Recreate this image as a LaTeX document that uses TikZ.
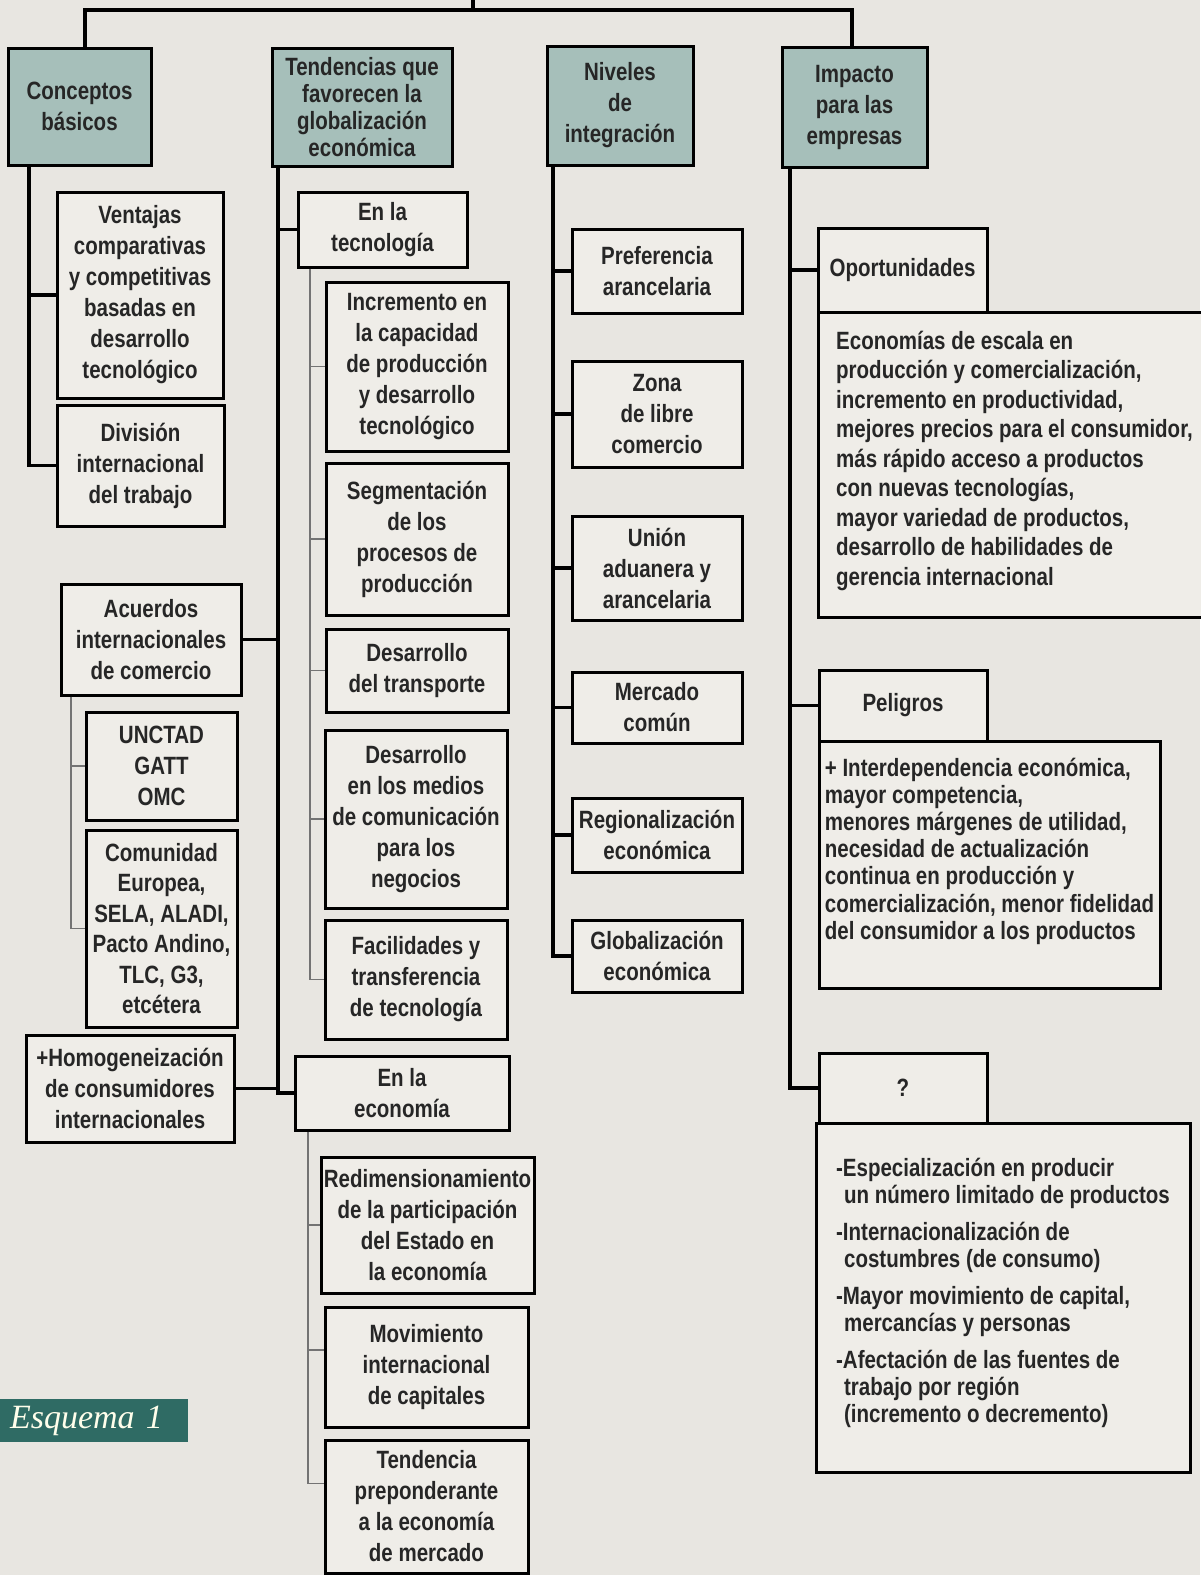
\documentclass[tikz,border=0pt]{standalone}
\usepackage{fontspec}
\setmainfont{Liberation Sans}[FakeStretch=0.82]
\newfontfamily\serifit{Liberation Serif}
\usetikzlibrary{calc}

\definecolor{fondo}{HTML}{E8E6E1}
\definecolor{fondcaja}{HTML}{EFEDE8}
\definecolor{cabecera}{HTML}{A6BFBA}
\definecolor{esquema}{HTML}{2F6B64}

\tikzset{
  caja/.style={draw=black, line width=3pt, fill=fondcaja, align=center,
    inner sep=0pt, text=black!85, font=\fontsize{25}{31}\selectfont\bfseries},
  titulo/.style={caja, fill=cabecera},
  rama/.style={line width=3.2pt, black},
  ramita/.style={line width=1.4pt, black!55},
}

\begin{document}
\begin{tikzpicture}[x=1pt,y=-1pt]

\useasboundingbox (0,0) rectangle (1200,1575);
\fill[fondo] (0,0) rectangle (1200,1575);

% Boites de titre
\node[titulo, minimum width=143pt, minimum height=117pt] (cb) at (79.5,106.5) {Conceptos\\básicos};
\node[titulo, minimum width=180pt, minimum height=118pt, font=\fontsize{25}{27}\selectfont\bfseries] (tf) at (362,107) {Tendencias que\\favorecen la\\globalización\\económica};
\node[titulo, minimum width=146pt, minimum height=119pt] (ni) at (620,105.5) {Niveles\\de\\integración};
\node[titulo, minimum width=145pt, minimum height=120pt] (ip) at (854.5,107) {Impacto\\para las\\empresas};

% Concepts de base
\node[caja, minimum width=166pt, minimum height=206pt] (vent) at (140,295) {Ventajas\\comparativas\\y competitivas\\basadas en\\desarrollo\\tecnológico};
\node[caja, minimum width=167pt, minimum height=121pt] (div) at (140.5,465.5) {División\\internacional\\del trabajo};
\node[caja, minimum width=180pt, minimum height=111pt] (acu) at (151,639.5) {Acuerdos\\internacionales\\de comercio};
\node[caja, minimum width=151pt, minimum height=108pt] (unc) at (161.5,766) {UNCTAD\\GATT\\OMC};
\node[caja, minimum width=151pt, minimum height=197pt, font=\fontsize{25}{30.5}\selectfont\bfseries] (com) at (161.5,928.5) {Comunidad\\Europea,\\SELA, ALADI,\\Pacto Andino,\\TLC, G3,\\etcétera};
\node[caja, minimum width=208pt, minimum height=107pt] (hom) at (130,1088.5) {+Homogeneización\\de consumidores\\internacionales};

% Tendances
\node[caja, minimum width=169pt, minimum height=75pt] (tec) at (382.5,229.5) {En la\\tecnología};
\node[caja, minimum width=182pt, minimum height=169pt] (inc) at (417,366.5) {Incremento en\\la capacidad\\de producción\\y desarrollo\\tecnológico};
\node[caja, minimum width=182pt, minimum height=152pt] (seg) at (417,539) {Segmentación\\de los\\procesos de\\producción};
\node[caja, minimum width=182pt, minimum height=83pt] (tra) at (417,670.5) {Desarrollo\\del transporte};
\node[caja, minimum width=182pt, minimum height=178pt] (med) at (416,819) {Desarrollo\\en los medios\\de comunicación\\para los\\negocios};
\node[caja, minimum width=182pt, minimum height=119pt] (fac) at (416,979.5) {Facilidades y\\transferencia\\de tecnología};
\node[caja, minimum width=214pt, minimum height=74pt] (eco) at (402,1093) {En la\\economía};
\node[caja, minimum width=213pt, minimum height=136pt] (red) at (427.5,1225) {Redimensionamiento\\de la participación\\del Estado en\\la economía};
\node[caja, minimum width=203pt, minimum height=120pt] (mov) at (426.5,1367) {Movimiento\\internacional\\de capitales};
\node[caja, minimum width=203pt, minimum height=133pt] (tpr) at (426.5,1506.5) {Tendencia\\preponderante\\a la economía\\de mercado};

% Niveaux
\node[caja, minimum width=170pt, minimum height=84pt] (pre) at (657,271) {Preferencia\\arancelaria};
\node[caja, minimum width=170pt, minimum height=106pt] (zon) at (657,414) {Zona\\de libre\\comercio};
\node[caja, minimum width=170pt, minimum height=104pt] (uni) at (657,568) {Unión\\aduanera y\\arancelaria};
\node[caja, minimum width=170pt, minimum height=71pt] (mer) at (657,707.5) {Mercado\\común};
\node[caja, minimum width=170pt, minimum height=74pt] (reg) at (657,835) {Regionalización\\económica};
\node[caja, minimum width=170pt, minimum height=72pt] (glo) at (657,956) {Globalización\\económica};

% Impact
\node[caja, minimum width=169pt, minimum height=84pt] (opo) at (902.5,270) {Oportunidades};
\node[caja, minimum width=393pt, minimum height=305pt, align=left, font=\fontsize{25}{29.5}\selectfont\bfseries] (eop) at (1014.5,464.5) {Economías de escala en\\producción y comercialización,\\incremento en productividad,\\mejores precios para el consumidor,\\más rápido acceso a productos\\con nuevas tecnologías,\\mayor variedad de productos,\\desarrollo de habilidades de\\gerencia internacional\rule[-13pt]{0pt}{0pt}};
\node[caja, minimum width=168pt, minimum height=71pt] (pel) at (903,705.5) {Peligros};
\node[caja, minimum width=341pt, minimum height=247pt, align=left, font=\fontsize{25}{27.2}\selectfont\bfseries] (int) at (989.5,864.5) {+ Interdependencia económica,\\mayor competencia,\\menores márgenes de utilidad,\\necesidad de actualización\\continua en producción y\\comercialización, menor fidelidad\\del consumidor a los productos\rule[-32pt]{0pt}{0pt}};
\node[caja, minimum width=168pt, minimum height=70pt] (que) at (903,1088) {?};
\node[caja, minimum width=374pt, minimum height=349pt, align=left, font=\fontsize{25}{27}\selectfont\bfseries] (esp) at (1003,1297.5) {-Especialización en producir\\\hspace*{8pt}un número limitado de productos\\[10pt]-Internacionalización de\\\hspace*{8pt}costumbres (de consumo)\\[10pt]-Mayor movimiento de capital,\\\hspace*{8pt}mercancías y personas\\[10pt]-Afectación de las fuentes de\\\hspace*{8pt}trabajo por región\\\hspace*{8pt}(incremento o decremento)\rule[-14pt]{0pt}{0pt}};

% Etiquette
\node[fill=esquema, inner sep=0pt, inner xsep=10pt, text width=168pt, minimum height=43pt, align=left,
  text=white!92!yellow, font=\serifit\itshape\fontsize{34}{34}\selectfont] (esq) at (94,1420.5) {Esquema 1};

% Ligne du haut
\coordinate (raiz) at (473,0);
\coordinate (hizq) at (85,10);
\coordinate (hder) at (852,10);
\draw[rama] (raiz) -- (raiz |- hizq);
\draw[rama] (cb.north -| hizq) -- (hizq) -- (hder) -- (ip.north -| hder);

% Tronc conceptos
\coordinate (tc) at (29,0);
\draw[rama] (cb.south -| tc) |- (div.west);
\draw[rama] (tc |- vent.west) -- (vent.west);

% Tronc tendencias
\coordinate (tt) at (278,0);
\draw[rama] (tf.south -| tt) |- (eco.west);
\draw[rama] (tt |- tec.west) -- (tec.west);
\draw[rama] (acu.east) -- (acu.east -| tt);
\draw[rama] (hom.east) -- (hom.east -| tt);

% Sous-branches (traits fins)
\coordinate (sa) at (71,0);
\draw[ramita] (acu.south -| sa) |- (com.west);
\draw[ramita] (sa |- unc.west) -- (unc.west);

\coordinate (st) at (310,0);
\draw[ramita] (tec.south -| st) |- (fac.west);
\draw[ramita] (st |- inc.west) -- (inc.west);
\draw[ramita] (st |- seg.west) -- (seg.west);
\draw[ramita] (st |- tra.west) -- (tra.west);
\draw[ramita] (st |- med.west) -- (med.west);

\coordinate (se) at (308,0);
\coordinate (bmov) at ($(mov.west)+(0,-17)$);
\coordinate (btpr) at ($(tpr.west)+(0,-23)$);
\draw[ramita] (eco.south -| se) |- (btpr);
\draw[ramita] (se |- red.west) -- (red.west);
\draw[ramita] (se |- bmov) -- (bmov);

% Tronc niveles
\coordinate (tn) at (553,0);
\draw[rama] (ni.south -| tn) |- (glo.west);
\draw[rama] (tn |- pre.west) -- (pre.west);
\draw[rama] (tn |- zon.west) -- (zon.west);
\draw[rama] (tn |- uni.west) -- (uni.west);
\draw[rama] (tn |- mer.west) -- (mer.west);
\draw[rama] (tn |- reg.west) -- (reg.west);

% Tronc impacto
\coordinate (ti) at (790,0);
\draw[rama] (ip.south -| ti) |- (que.west);
\draw[rama] (ti |- opo.west) -- (opo.west);
\draw[rama] (ti |- pel.west) -- (pel.west);

\end{tikzpicture}
\end{document}
